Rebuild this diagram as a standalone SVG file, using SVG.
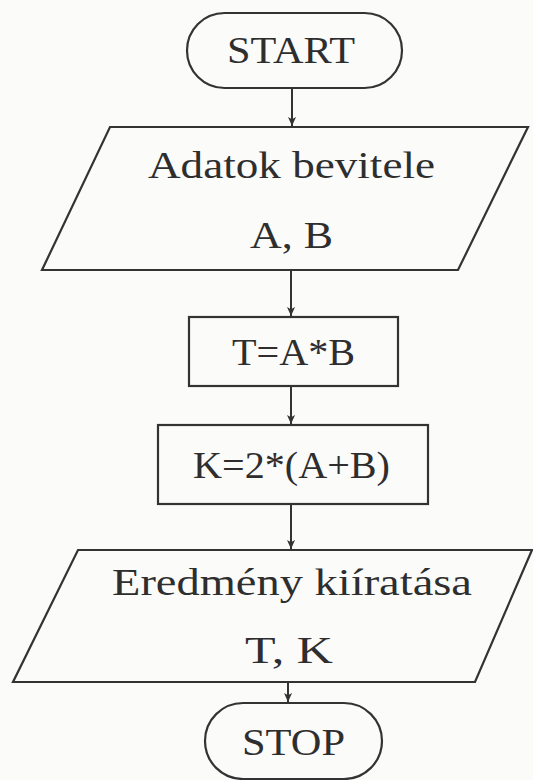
<svg xmlns="http://www.w3.org/2000/svg" width="533" height="780" viewBox="0 0 533 780">
  <style>
    .shape { fill: none; stroke: #333; stroke-width: 2.2; stroke-linejoin: miter; }
    .conn { fill: none; stroke: #333; stroke-width: 2; }
    .lbl { font-family: "Liberation Serif", "DejaVu Serif", serif; font-size: 38px; fill: #2e2e2e; }
  </style>
  <defs>
    <marker id="arrow" viewBox="0 0 10 10" refX="10" refY="5" markerWidth="9" markerHeight="9" markerUnits="userSpaceOnUse" orient="auto">
      <path d="M0,0.5 L10,5 L0,9.5 L2.5,5 Z" fill="#333"/>
    </marker>
  </defs>
  <rect width="533" height="780" fill="#fbfbfa"/>

  <g id="connectors">
    <line class="conn" x1="292" y1="88" x2="292" y2="126" marker-end="url(#arrow)"/>
    <line class="conn" x1="291" y1="270" x2="291" y2="316" marker-end="url(#arrow)"/>
    <line class="conn" x1="291" y1="386" x2="291" y2="424" marker-end="url(#arrow)"/>
    <line class="conn" x1="291" y1="504" x2="291" y2="549" marker-end="url(#arrow)"/>
    <line class="conn" x1="288" y1="682" x2="288" y2="702" marker-end="url(#arrow)"/>
  </g>

  <g id="start">
    <rect class="shape" x="187" y="13" width="215" height="75" rx="37.5" ry="37.5"/>
    <text class="lbl" x="227" y="63" textLength="128" lengthAdjust="spacingAndGlyphs">START</text>
  </g>

  <g id="input">
    <polygon class="shape" points="110,127 528,127 458,270 42,270"/>
    <text class="lbl" x="148" y="178" textLength="287" lengthAdjust="spacingAndGlyphs">Adatok bevitele</text>
    <text class="lbl" x="250" y="248" textLength="83" lengthAdjust="spacingAndGlyphs">A, B</text>
  </g>

  <g id="calc-t">
    <rect class="shape" x="189" y="317" width="209" height="69"/>
    <text class="lbl" x="232" y="365" textLength="123" lengthAdjust="spacingAndGlyphs">T=A*B</text>
  </g>

  <g id="calc-k">
    <rect class="shape" x="158" y="425" width="270" height="79"/>
    <text class="lbl" x="193" y="478" textLength="197" lengthAdjust="spacingAndGlyphs">K=2*(A+B)</text>
  </g>

  <g id="output">
    <polygon class="shape" points="78,550 532,550 475,682 13,682"/>
    <text class="lbl" x="112" y="595" textLength="360" lengthAdjust="spacingAndGlyphs">Eredmény kiíratása</text>
    <text class="lbl" x="245" y="663" textLength="88" lengthAdjust="spacingAndGlyphs">T, K</text>
  </g>

  <g id="stop">
    <rect class="shape" x="205" y="703" width="177" height="76" rx="38" ry="38"/>
    <text class="lbl" x="242" y="755" textLength="103" lengthAdjust="spacingAndGlyphs">STOP</text>
  </g>
</svg>
